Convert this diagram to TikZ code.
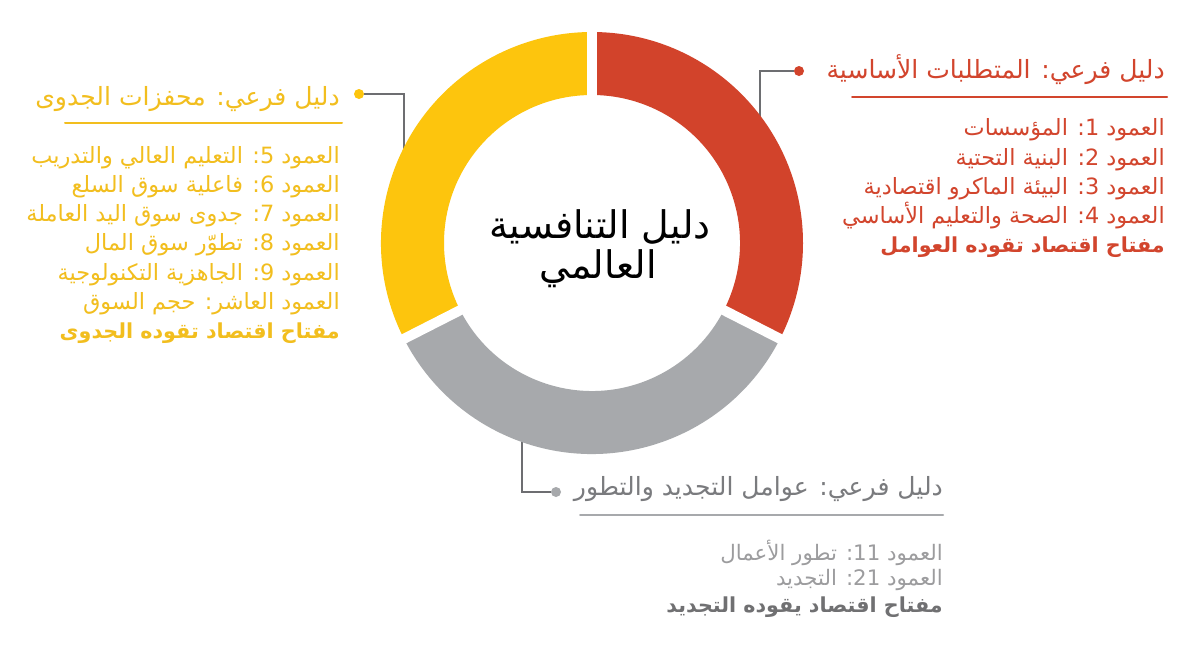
\documentclass[tikz,border=0pt]{standalone}
\usepackage{fontspec}
\newfontfamily\arabicfont[Script=Arabic]{DejaVu Sans}
\TeXXeTstate=1
\definecolor{redc}{HTML}{D2432B}
\definecolor{yellowc}{HTML}{FDC50D}
\definecolor{grayc}{HTML}{A7A9AC}
\definecolor{redt}{HTML}{D2452D}
\definecolor{yellowt}{HTML}{F2BE1E}
\definecolor{grayh}{HTML}{7A7B7E}
\definecolor{grayb}{HTML}{9C9C9E}
\definecolor{grayk}{HTML}{707072}
\definecolor{connc}{HTML}{6D6E71}
\tikzset{
  hdr/.style={anchor=base east, inner sep=0pt, font=\arabicfont\fontsize{18.8}{22}\selectfont},
  bodyt/.style={anchor=base east, inner sep=0pt, font=\arabicfont\fontsize{16.8}{20}\selectfont},
  gbodyt/.style={anchor=base east, inner sep=0pt, font=\arabicfont\fontsize{16}{19}\selectfont},
  boldt/.style={anchor=base east, inner sep=0pt, font=\arabicfont\bfseries\fontsize{15.5}{18}\selectfont},
  dotn/.style={circle, inner sep=0pt, minimum size=7.5pt},
  conn/.style={draw=connc, line width=1.5pt},
  uline/.style={line width=1.5pt, line cap=round},
  gapline/.style={draw=white, line width=7.5pt},
  centert/.style={anchor=base, inner sep=0pt, text=black, font=\arabicfont\fontsize{28.5}{32}\selectfont}
}
\begin{document}
\begin{tikzpicture}[x=0.75pt,y=-0.75pt]
\useasboundingbox[fill=white] (0,0) rectangle (1200,654);
% dots and connectors
\node[dotn, fill=redc] (rdot) at (799,71) {};
\node[dotn, fill=yellowc] (ydot) at (359,94) {};
\node[dotn, fill=grayc] (gdot) at (556,492) {};
\coordinate (rin) at (760,135);
\coordinate (yin) at (404,165);
\coordinate (gin) at (522,425);
\draw[conn] (rdot) -| (rin);
\draw[conn] (ydot) -| (yin);
\draw[conn] (gdot) -| (gin);
% ring
\begin{scope}[shift={(592,243)}]
\begin{scope}[x=0.75pt,y=0.75pt]
\fill[redc] (90:211) arc[start angle=90,end angle=-27,radius=211] -- (-27:148) arc[start angle=-27,end angle=90,radius=148] -- cycle;
\fill[grayc] (-27:211) arc[start angle=-27,end angle=-153,radius=211] -- (-153:148) arc[start angle=-153,end angle=-27,radius=148] -- cycle;
\fill[yellowc] (-153:211) arc[start angle=-153,end angle=-270,radius=211] -- (90:148) arc[start angle=90,end angle=207,radius=148] -- cycle;
\draw[gapline] (90:140) -- (90:222);
\draw[gapline] (-27:140) -- (-27:222);
\draw[gapline] (-153:140) -- (-153:222);
\end{scope}
\end{scope}
% center title
\node[centert] (t1) at (600,238) {\beginR دليل التنافسية\endR};
\node[centert] (t2) at (598,278) {\beginR العالمي\endR};
% red block
\node[hdr, text=redt] (rh) at (1165,78) {\beginR دليل فرعي: المتطلبات الأساسية\endR};
\draw[uline, redt] (852,97) -- (1167,97);
\node[bodyt, text=redt] (r1) at (1165,135) {\beginR العمود 1: المؤسسات\endR};
\node[bodyt, text=redt] (r2) at (1165,165) {\beginR العمود 2: البنية التحتية\endR};
\node[bodyt, text=redt] (r3) at (1165,194) {\beginR العمود 3: البيئة الماكرو اقتصادية\endR};
\node[bodyt, text=redt] (r4) at (1165,223) {\beginR العمود 4: الصحة والتعليم الأساسي\endR};
\node[boldt, text=redt] (r5) at (1165,252) {\beginR مفتاح اقتصاد تقوده العوامل\endR};
% yellow block
\node[hdr, text=yellowt] (yh) at (340,105) {\beginR دليل فرعي: محفزات الجدوى\endR};
\draw[uline, yellowt] (65,123) -- (342,123);
\node[bodyt, text=yellowt] (y1) at (340,163) {\beginR العمود 5: التعليم العالي والتدريب\endR};
\node[bodyt, text=yellowt] (y2) at (340,192) {\beginR العمود 6: فاعلية سوق السلع\endR};
\node[bodyt, text=yellowt] (y3) at (340,221) {\beginR العمود 7: جدوى سوق اليد العاملة\endR};
\node[bodyt, text=yellowt] (y4) at (340,250) {\beginR العمود 8: تطوّر سوق المال\endR};
\node[bodyt, text=yellowt] (y5) at (340,280) {\beginR العمود 9: الجاهزية التكنولوجية\endR};
\node[bodyt, text=yellowt] (y6) at (340,309) {\beginR العمود العاشر: حجم السوق\endR};
\node[boldt, text=yellowt] (y7) at (340,338) {\beginR مفتاح اقتصاد تقوده الجدوى\endR};
% gray block
\node[hdr, text=grayh] (gh) at (943,495) {\beginR دليل فرعي: عوامل التجديد والتطور\endR};
\draw[uline, grayc] (580,515) -- (943,515);
\node[gbodyt, text=grayb] (g1) at (943,560) {\beginR العمود 11: تطور الأعمال\endR};
\node[gbodyt, text=grayb] (g2) at (943,585) {\beginR العمود 21: التجديد\endR};
\node[boldt, text=grayk] (g3) at (943,612) {\beginR مفتاح اقتصاد يقوده التجديد\endR};
\end{tikzpicture}
\end{document}
